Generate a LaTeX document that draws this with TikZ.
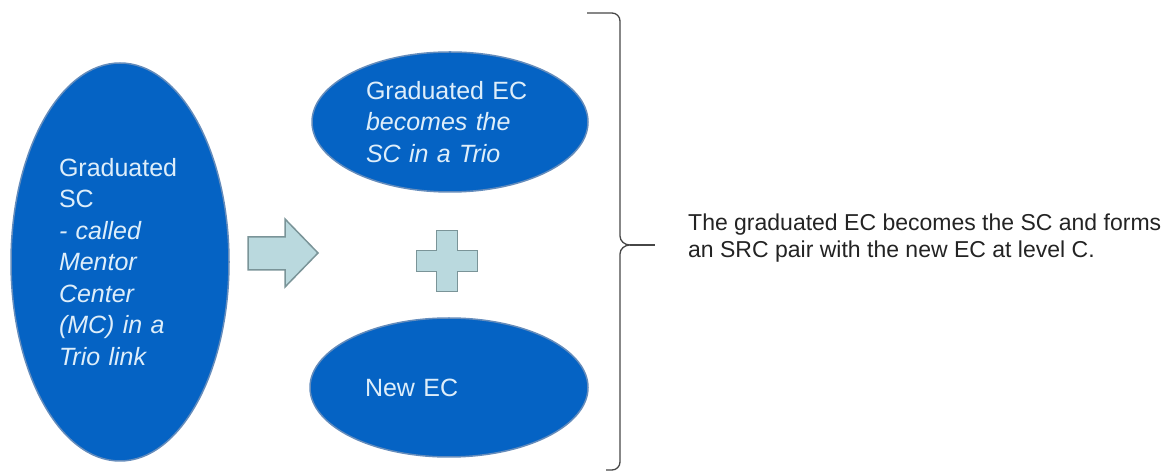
\documentclass[tikz,border=0pt]{standalone}
\usepackage{fontspec}
\setmainfont{Liberation Sans}
\usetikzlibrary{shapes.geometric}
\definecolor{ovalblue}{RGB}{5,99,196}
\definecolor{ovalrim}{RGB}{100,140,188}
\definecolor{ovaltext}{RGB}{222,238,250}
\definecolor{markfill}{RGB}{186,217,222}
\definecolor{markrim}{RGB}{122,148,152}
\definecolor{bracegray}{RGB}{70,70,70}
\tikzset{
  oval/.style={ellipse,fill=ovalblue,draw=ovalrim,line width=1.5pt,text=ovaltext,
    align=left,inner sep=0pt,font=\fontsize{25}{31.5}\selectfont},
  markshape/.style={fill=markfill,draw=markrim,line width=1.5pt,line join=miter}
}
\begin{document}
\begin{tikzpicture}[x=1pt,y=1pt]
\useasboundingbox(0,0)rectangle(1169,476);
\pgfmathsetmacro{\px}{447}
\pgfmathsetmacro{\py}{215}
\node[oval,minimum width=218,minimum height=398,text width=122](mc)at(120,214)
  {Graduated\\SC\\\textit{- called}\\\textit{Mentor}\\\textit{Center}\\\textit{(MC) in a}\\\textit{Trio link}};
\node[oval,minimum width=276,minimum height=140,text width=168](gec)at(450,354)
  {Graduated EC\\\textit{becomes the}\\\textit{SC in a Trio}};
\node[oval,minimum width=278,minimum height=139,text width=168](nec)at(449,88.5)
  {New EC};
\draw[markshape](248,239)--(285,239)--(285,257)--(318,223)--(285,189)--(285,206)--(248,206)--cycle;
\draw[markshape](\px-10.5,\py+30.5)--(\px+10.5,\py+30.5)--(\px+10.5,\py+10.5)--(\px+30.5,\py+10.5)
  --(\px+30.5,\py-10.5)--(\px+10.5,\py-10.5)--(\px+10.5,\py-30.5)--(\px-10.5,\py-30.5)
  --(\px-10.5,\py-10.5)--(\px-30.5,\py-10.5)--(\px-30.5,\py+10.5)--(\px-10.5,\py+10.5)--cycle;
\coordinate(tip)at(630,231);
\draw[bracegray,line width=1.3pt](587,463)--(612,463)to[out=0,in=90](620,455)--(620,240)
  to[out=-90,in=180](tip)to[out=180,in=90](620,222)--(620,14)to[out=-90,in=0](612,6)--(606,6);
\draw[bracegray,line width=1.6pt](tip)--(655,231);
\node[anchor=west,align=left,text={rgb,255:red,35;green,35;blue,35},inner sep=0pt,
  font=\fontsize{23}{27}\selectfont](note)at(688,238)
  {The graduated EC becomes the SC and forms\\an SRC pair with the new EC at level C.};
\end{tikzpicture}
\end{document}
